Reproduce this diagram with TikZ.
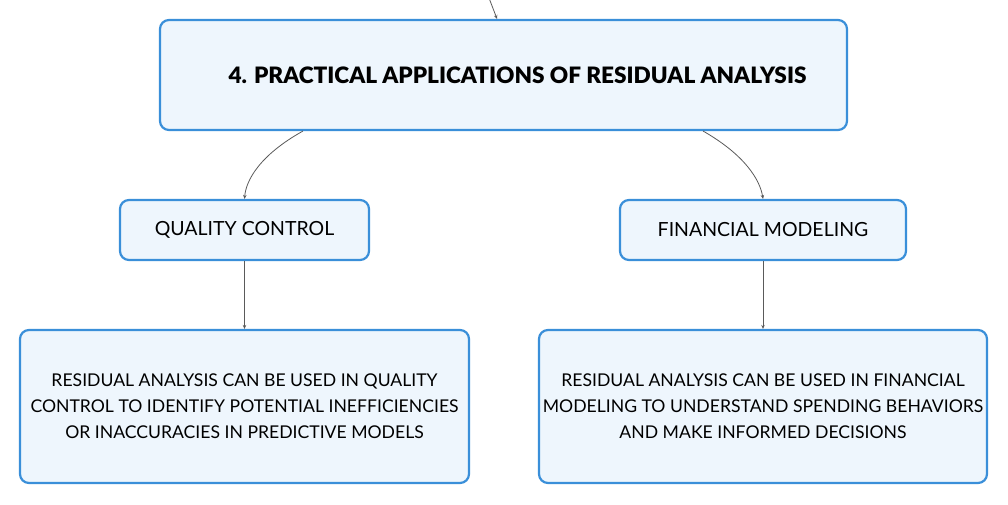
\documentclass[tikz,border=0pt]{standalone}
\usepackage{fontspec}
\setmainfont{Lato}
\newfontfamily\heavyfont{Lato Black}
\usetikzlibrary{arrows.meta}
\definecolor{boxline}{HTML}{3A8FD9}
\definecolor{boxfill}{HTML}{EEF6FD}
\definecolor{wire}{HTML}{5A5A5A}
\tikzset{
  topic/.style={draw=boxline, fill=boxfill, line width=2.2pt, rounded corners=9pt, align=center, inner sep=0pt},
  link/.style={draw=wire, line width=0.8pt, -{Stealth[length=4pt,width=3.5pt]}}
}
\begin{document}
\begin{tikzpicture}[x=1pt,y=-1pt]
\useasboundingbox (0,0) rectangle (1008,504);
\node[topic, minimum width=687pt, minimum height=110pt, font=\fontsize{22.6}{27}\heavyfont] (main) at (503.5,75){\hspace{28pt}4. PRACTICAL APPLICATIONS OF RESIDUAL ANALYSIS};
\node[topic, minimum width=249pt, minimum height=60pt, font=\fontsize{19.5}{23}\selectfont] (qc) at (244.5,230){QUALITY CONTROL};
\node[topic, minimum width=286pt, minimum height=60pt, font=\fontsize{19.5}{23}\selectfont] (fm) at (763,230){FINANCIAL MODELING};
\node[topic, minimum width=449pt, minimum height=153pt, font=\fontsize{17.6}{26}\selectfont] (qctext) at (244.5,406.5){RESIDUAL ANALYSIS CAN BE USED IN QUALITY\\CONTROL TO IDENTIFY POTENTIAL INEFFICIENCIES\\OR INACCURACIES IN PREDICTIVE MODELS};
\node[topic, minimum width=448pt, minimum height=153pt, font=\fontsize{17.6}{26}\selectfont] (fmtext) at (763,406.5){RESIDUAL ANALYSIS CAN BE USED IN FINANCIAL\\MODELING TO UNDERSTAND SPENDING BEHAVIORS\\AND MAKE INFORMED DECISIONS};
\coordinate (up) at (489,-2);
\draw[link] (up) .. controls (493,8) .. (497,19);
\draw[link] (303,131) .. controls (260,155) and (246,180) .. (qc.north);
\draw[link] (703,131) .. controls (745,155) and (760,180) .. (fm.north);
\draw[link] (qc) -- (qctext);
\draw[link] (fm) -- (fmtext);
\end{tikzpicture}
\end{document}
